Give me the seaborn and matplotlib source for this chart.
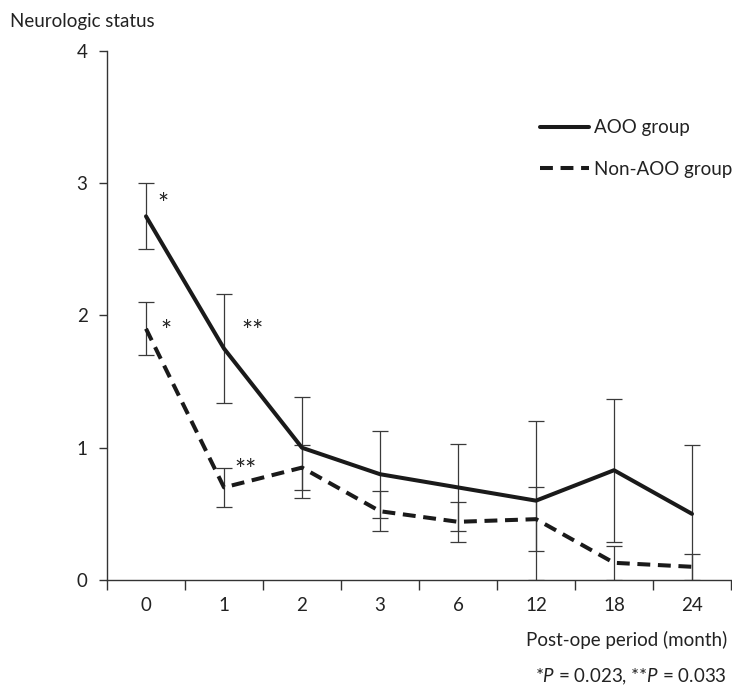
import seaborn as sns
import matplotlib.pyplot as plt
import numpy as np

periods = ['0', '1', '2', '3', '6', '12', '18', '24']
aoo_mean = [2.75, 1.75, 1.00, 0.80, 0.70, 0.60, 0.83, 0.50]
aoo_err = [0.25, 0.41, 0.38, 0.33, 0.33, 0.60, 0.54, 0.52]
non_mean = [1.90, 0.70, 0.85, 0.52, 0.44, 0.46, 0.13, 0.10]
non_err = [0.20, 0.15, 0.17, 0.15, 0.15, 0.24, 0.13, 0.10]

sns.set_style('ticks')
plt.rcParams['font.family'] = ['Lato', 'DejaVu Sans']
plt.rcParams['mathtext.fontset'] = 'custom'
plt.rcParams['mathtext.it'] = 'Lato:italic'
plt.rcParams['mathtext.rm'] = 'Lato'

fs = 13.5
tc = '#222222'

fig = plt.figure(figsize=(7.32, 6.9), dpi=100)
ax = fig.add_axes([107 / 732, 1 - 580 / 690, 624 / 732, 529 / 690])

idx = np.arange(len(periods))
ecol = '#3a3a3a'
ax.errorbar(idx, aoo_mean, yerr=aoo_err, fmt='none', ecolor=ecol,
            elinewidth=0.9, capsize=6, capthick=0.9, zorder=1)
ax.errorbar(idx, non_mean, yerr=non_err, fmt='none', ecolor=ecol,
            elinewidth=0.9, capsize=6, capthick=0.9, zorder=1)

sns.lineplot(x=idx, y=aoo_mean, ax=ax, color='#1a1a1a', lw=2.9,
             label='AOO group', zorder=3)
sns.lineplot(x=idx, y=non_mean, ax=ax, color='#1a1a1a', lw=2.9,
             label='Non-AOO group', zorder=3)
ax.lines[-1].set_dashes((3.2, 1.9))
ax.lines[-1].set_dash_capstyle('butt')

ax.set_xlim(-0.5, 7.5)
ax.set_ylim(0, 4)
ax.set_yticks([0, 1, 2, 3, 4])
ax.set_xticks(idx)
ax.set_xticklabels(periods)
ax.set_xticks(np.arange(-0.5, 8.0, 1.0), minor=True)
ax.tick_params(axis='x', which='major', length=0, pad=12, labelsize=fs, colors=tc)
ax.tick_params(axis='x', which='minor', length=7, width=1, color='#333333', direction='out')
ax.tick_params(axis='y', length=6, width=1, color='#333333', pad=8, labelsize=fs, colors=tc)
ax.set_xlabel('')
ax.set_ylabel('')
for s in ['top', 'right']:
    ax.spines[s].set_visible(False)
for s in ['left', 'bottom']:
    ax.spines[s].set_linewidth(1)
    ax.spines[s].set_color('#333333')

# significance marks
ax.text(0.22, 2.83, '*', fontsize=19, color=tc, ha='center', va='center')
ax.text(0.25, 1.87, '*', fontsize=19, color=tc, ha='center', va='center')
ax.text(1.37, 1.87, '**', fontsize=19, color=tc, ha='center', va='center')
ax.text(1.27, 0.82, '**', fontsize=19, color=tc, ha='center', va='center')

leg = ax.legend(loc='center left', bbox_to_anchor=(0.694, 0.816), frameon=False,
                borderpad=0, borderaxespad=0, handlelength=2.6, handletextpad=0.3,
                labelspacing=1.3, fontsize=fs)
for t in leg.get_texts():
    t.set_color(tc)

fig.text(10 / 732, 1 - 22 / 690, 'Neurologic status', fontsize=fs, color=tc,
         ha='left', va='center')
fig.text(727 / 732, 1 - 640 / 690, 'Post-ope period (month)', fontsize=fs,
         color=tc, ha='right', va='center')
fig.text(727 / 732, 1 - 677 / 690, r'*$\it{P}$ = 0.023, **$\it{P}$ = 0.033', fontsize=fs,
         color=tc, ha='right', va='center')

fig.savefig('out.png', dpi=100, facecolor='white')
